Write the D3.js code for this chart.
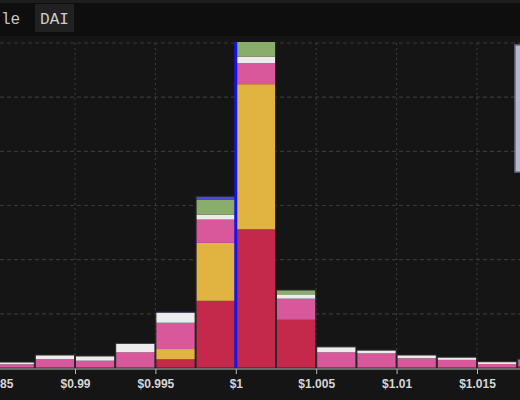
<!DOCTYPE html>
<html>
<head>
<meta charset="utf-8">
<script src="https://cdn.jsdelivr.net/npm/d3@7"></script>
<style>
  body { margin: 0; background: #151515; }
  svg { display: block; }
</style>
</head>
<body>
<svg id="graf" width="520" height="400"></svg>
<script>
// bin start prices (each bin is 0.0025 wide)
const binStarts = [0.985, 0.9875, 0.99, 0.9925, 0.995, 0.9975, 1.0, 1.0025, 1.005, 1.0075, 1.01, 1.0125, 1.015, 1.0175];
const binWidth = 0.0025;

// stacked series, bottom to top
const series = ["s1", "s2", "s3", "s4", "s5", "s6"];
const s1 = [0, 0, 0, 0, 1.6, 12.4, 25.6, 8.9, 0, 0, 0, 0, 0, 0.35];
const s2 = [0, 0, 0, 0, 1.9, 10.7, 26.8, 0, 0, 0, 0, 0, 0, 0];
const s3 = [0.7, 1.66, 1.35, 2.9, 4.85, 4.3, 3.9, 3.9, 2.9, 2.7, 1.8, 1.5, 0.74, 1.3];
const s4 = [0.4, 0.74, 0.87, 1.66, 1.9, 0.9, 1.2, 0.8, 1.0, 0.6, 0.6, 0.5, 0.42, 0];
const s5 = [0, 0, 0, 0, 0, 2.8, 2.8, 0.8, 0, 0, 0, 0, 0, 0];
const s6 = [0, 0, 0, 0, 0.1, 0.6, 0, 0, 0, 0, 0, 0, 0, 0];
const colores = ["#c4294b", "#e1b441", "#d9589b", "#ececec", "#8bad6b", "#4b4bd6"];

const xTicks = [0.985, 0.99, 0.995, 1.0, 1.005, 1.01, 1.015];
const yTicks = [0, 10, 20, 30, 40, 50, 60];
const pegPrice = 1.0;

const svg = d3.select("#graf");

// top bar
svg.append("rect").attr("x", 0).attr("y", 0).attr("width", 520).attr("height", 36).attr("fill", "#0e0e0e");
svg.append("rect").attr("x", 0).attr("y", 0).attr("width", 520).attr("height", 3).attr("fill", "#1d1d1d");
svg.append("text").attr("x", 1).attr("y", 24)
  .attr("font-family", "Liberation Mono, monospace").attr("font-size", 16).attr("fill", "#c4c4c4")
  .text("le");
svg.append("rect").attr("x", 35).attr("y", 4).attr("width", 39).attr("height", 28).attr("fill", "#212121");
svg.append("text").attr("x", 54.5).attr("y", 24).attr("text-anchor", "middle")
  .attr("font-family", "Liberation Mono, monospace").attr("font-size", 16).attr("fill", "#cfcfcf")
  .text("DAI");

const x = d3.scaleLinear().domain([0.99, 1.015]).range([75, 477]);
const y = d3.scaleLinear().domain([0, 60]).range([368, 43]);

// grid
const grid = svg.append("g");
grid.selectAll(".h").data(yTicks.slice(1)).enter().append("line")
  .attr("x1", 0).attr("x2", 520)
  .attr("y1", d => y(d)).attr("y2", d => y(d))
  .attr("stroke", "#383838").attr("stroke-width", 1.2).attr("stroke-dasharray", "4,3");
grid.selectAll(".v").data(xTicks).enter().append("line")
  .attr("x1", d => x(d)).attr("x2", d => x(d))
  .attr("y1", y(60)).attr("y2", y(0))
  .attr("stroke", "#383838").attr("stroke-width", 1.2).attr("stroke-dasharray", "2,3");

// stacked bars
const tabla = binStarts.map((b, i) => ({ x0: b, s1: s1[i], s2: s2[i], s3: s3[i], s4: s4[i], s5: s5[i], s6: s6[i] }));
const stack = d3.stack().keys(series)(tabla);

svg.append("clipPath").attr("id", "plot").append("rect")
  .attr("x", 0).attr("y", 42).attr("width", 520).attr("height", 330);

const barras = svg.append("g").attr("clip-path", "url(#plot)");
stack.forEach((capa, k) => {
  barras.append("g").selectAll("rect")
    .data(capa.filter(d => d[1] - d[0] > 0))
    .enter()
    .append("rect")
    .attr("x", d => x(d.data.x0) + 0.5)
    .attr("width", d => x(d.data.x0 + binWidth) - x(d.data.x0) - 1)
    .attr("y", d => y(d[1]))
    .attr("height", d => y(d[0]) - y(d[1]))
    .attr("fill", colores[k]);
});
// dark outline around each bar
barras.append("g").selectAll("rect")
  .data(tabla)
  .enter()
  .append("rect")
  .attr("x", d => x(d.x0) + 0.5)
  .attr("width", d => x(d.x0 + binWidth) - x(d.x0) - 1)
  .attr("y", d => y(d3.sum(series, k => d[k])))
  .attr("height", d => y(0) - y(d3.sum(series, k => d[k])))
  .attr("fill", "none")
  .attr("stroke", "#2a2a2a")
  .attr("stroke-width", 1);

// peg line
svg.append("line")
  .attr("x1", x(pegPrice)).attr("x2", x(pegPrice))
  .attr("y1", 42).attr("y2", y(0))
  .attr("stroke", "#1414f0").attr("stroke-width", 3);

// x axis
const eje = svg.append("g").attr("transform", `translate(0,${y(0) + 1})`)
  .call(d3.axisBottom(x).tickValues(xTicks).tickSize(5).tickSizeOuter(0)
    .tickFormat(d => "$" + (+d.toFixed(3))));
eje.select(".domain").attr("stroke", "#b8b8b8").attr("d", "M-10,0H530");
eje.selectAll(".tick line").attr("stroke", "#b8b8b8");
eje.selectAll(".tick text")
  .attr("fill", "#d6d6d6")
  .attr("font-family", "Liberation Sans, Arial, sans-serif")
  .attr("font-weight", "bold")
  .attr("font-size", 12)
  .attr("dy", "0.95em");

// legend box (cut off at right edge)
svg.append("rect").attr("x", 515).attr("y", 45).attr("width", 20).attr("height", 127)
  .attr("fill", "#b9b6d2").attr("stroke", "#6d6b8a").attr("stroke-width", 1.5);
</script>
</body>
</html>
